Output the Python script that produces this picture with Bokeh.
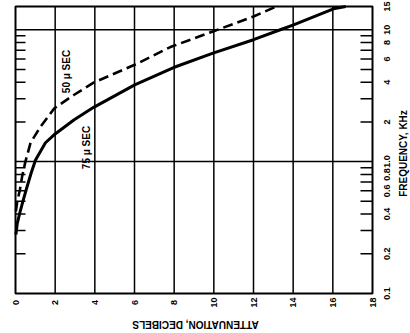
import math
from bokeh.plotting import figure
from bokeh.models import Label, Range1d
from bokeh.core.properties import value
from bokeh.embed import file_html
from bokeh.resources import INLINE

# Data (attenuation in dB vs frequency in kHz)
solid_db = [0.02, 0.09, 0.22, 0.39, 0.59, 0.79, 1.01, 1.51, 1.93, 2.94, 3.94, 6.01, 7.97, 9.96, 12.0, 13.35, 14.02, 16.03, 16.65]
solid_f = [0.28, 0.34, 0.41, 0.51, 0.65, 0.82, 1.03, 1.39, 1.59, 2.07, 2.58, 3.82, 5.17, 6.65, 8.40, 10.0, 10.9, 14.4, 15.0]
dashed_db = [0.02, 0.09, 0.22, 0.34, 0.50, 0.76, 1.26, 1.96, 2.94, 3.94, 6.01, 7.81, 9.96, 12.0, 13.15]
dashed_f = [0.42, 0.50, 0.61, 0.78, 1.0, 1.39, 1.84, 2.54, 3.20, 3.97, 5.42, 7.39, 9.71, 12.6, 15.0]

x_ticks = [0, 2, 4, 6, 8, 10, 12, 14, 16, 18]
x_tick_labels = ["0", "2", "4", "6", "8", "10", "12", "14", "16", "18"]
f_ticks = [0.2, 0.3, 0.4, 0.5, 0.6, 0.7, 0.8, 0.9, 2, 3, 4, 5, 6, 7, 8, 9]
f_label_values = [0.1, 0.2, 0.4, 0.6, 0.8, 1, 2, 4, 6, 8, 10, 15]
f_label_texts = ["0.1", "0.2", "0.4", "0.6", "0.8", "1.0", "2", "4", "6", "8", "10", "15"]
decade_lines = [1, 10]
X_MIN, X_MAX = 0, 18
F_MIN, F_MAX = 0.1, 15

FONT = "Liberation Sans"

# geometry (pixels)
W, H = 410, 333
FL, FT, FR, FB = 15, 6, 372, 293   # plot box edges on the canvas
dpp = (X_MAX - X_MIN) / (FR - FL)                              # dB per pixel
kpp = (math.log10(F_MAX) - math.log10(F_MIN)) / (FB - FT)     # decades per pixel


def f_at(px_below_box_bottom):
    return 10 ** (math.log10(F_MIN) - px_below_box_bottom * kpp)


x_lo = X_MIN - FL * dpp
x_hi = X_MAX + (W - FR) * dpp
y_lo = f_at(H - FB)
y_hi = 10 ** (math.log10(F_MAX) + FT * kpp)

p = figure(width=W, height=H, frame_width=W, frame_height=H, min_border=0,
           output_backend="svg", toolbar_location=None,
           x_range=Range1d(x_lo, x_hi), y_range=Range1d(y_lo, y_hi), y_axis_type="log",
           x_axis_location=None, y_axis_location=None)
p.outline_line_color = None
p.background_fill_color = "white"
p.border_fill_color = "white"
p.grid.visible = False

# grid lines
p.segment(x0=x_ticks[1:-1], y0=F_MIN, x1=x_ticks[1:-1], y1=F_MAX, line_color="black", line_width=1.5)
p.segment(x0=X_MIN, y0=decade_lines, x1=X_MAX, y1=decade_lines, line_color="black", line_width=1.5)

# inward tick marks on both frequency sides
p.segment(x0=X_MIN, y0=f_ticks, x1=X_MIN + 10 * dpp, y1=f_ticks, line_color="black", line_width=1.5)
p.segment(x0=X_MAX - 12 * dpp, y0=f_ticks, x1=X_MAX, y1=f_ticks, line_color="black", line_width=1.5)

# plot box
p.quad(left=X_MIN, right=X_MAX, bottom=F_MIN, top=F_MAX, fill_color=None,
       line_color="black", line_width=2)

# curves
p.line(dashed_db, dashed_f, line_color="black", line_width=2.6, line_dash="10 5", line_join="round")
p.line(solid_db, solid_f, line_color="black", line_width=3, line_join="round")

# tick labels
p.text(x=[X_MAX + 14 * dpp] * len(f_label_values), y=f_label_values, text=f_label_texts,
       angle=math.pi / 2, text_align="center", text_baseline="middle",
       text_font=value(FONT), text_font_style="bold", text_font_size="9px", text_color="black")
p.text(x=x_ticks, y=[f_at(9)] * len(x_ticks), text=x_tick_labels,
       angle=math.pi / 2, text_align="center", text_baseline="middle",
       text_font=value(FONT), text_font_style="bold", text_font_size="9px", text_color="black")


def lab(text, sx, sy, angle):
    p.add_layout(Label(x=sx, y=H - sy, x_units="screen", y_units="screen", text=text,
                       angle=angle, text_align="center", text_baseline="middle",
                       text_font=FONT, text_font_style="bold", text_font_size="10px",
                       text_color="black"))


lab("50 \u03bc SEC", 66, 71, math.pi / 2)
lab("75 \u03bc SEC", 86, 147, math.pi / 2)
lab("FREQUENCY, KHz", 403, 153, math.pi / 2)
lab("ATTENUATION, DECIBELS", 195, 324, math.pi)

open("out.html", "w").write(file_html(p, INLINE))
